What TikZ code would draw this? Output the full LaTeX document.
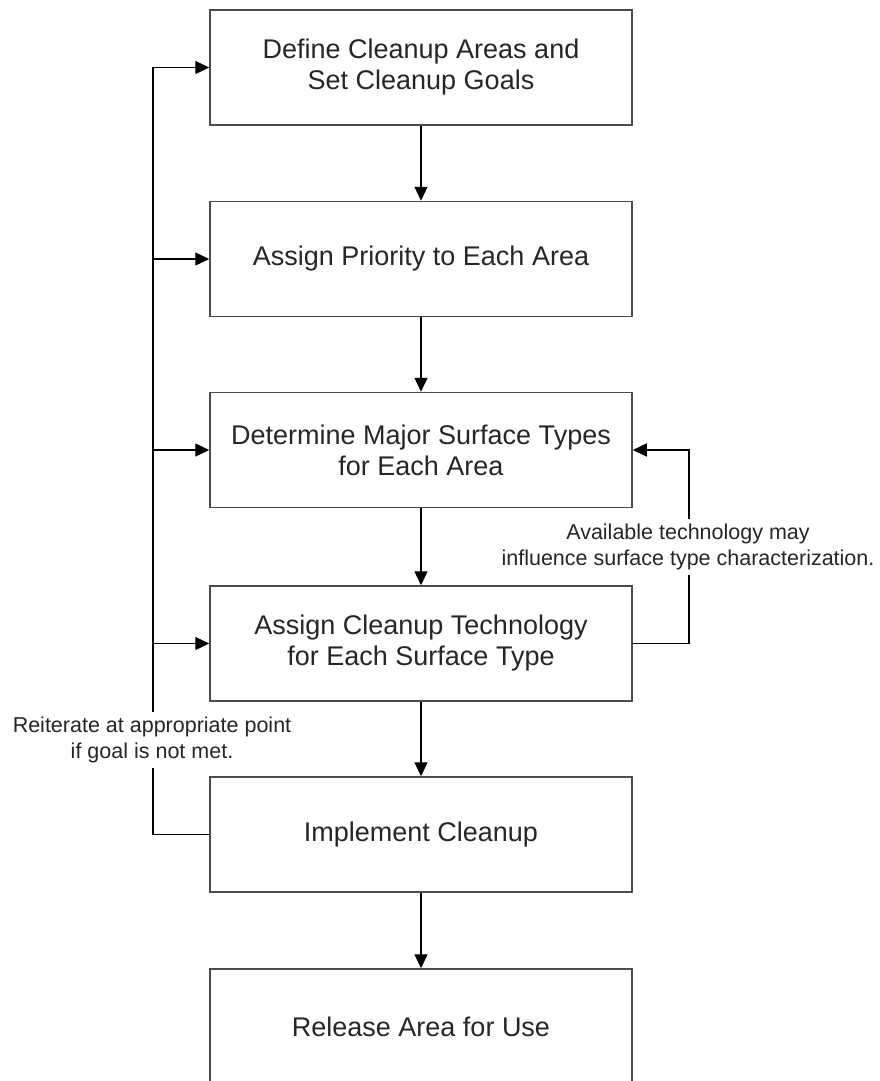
\documentclass[tikz,border=0pt]{standalone}
\usepackage{fontspec}
\setmainfont{Liberation Sans}
\usetikzlibrary{arrows.meta}
\begin{document}
\begin{tikzpicture}[x=1pt,y=-1pt,
  stepbox/.style={draw=black!70, line width=1.5pt, minimum width=422pt, minimum height=115pt,
    inner sep=0pt, align=center, font=\fontsize{27}{31}\selectfont, text=black!85},
  conn/.style={line width=1.3pt, -{Triangle[length=14pt,width=13pt]}},
  note/.style={fill=white, inner xsep=2pt, inner ysep=5pt, align=center,
    font=\fontsize{21.5}{26}\selectfont, text=black!85}]
\useasboundingbox (0,0) rectangle (879,1081);
\clip (0,0) rectangle (879,1081);
\node[stepbox] (b1) at (421,67.5) {Define Cleanup Areas and\\Set Cleanup Goals};
\node[stepbox] (b2) at (421,259) {Assign Priority to Each Area};
\node[stepbox] (b3) at (421,450) {Determine Major Surface Types\\for Each Area};
\node[stepbox] (b4) at (421,643.5) {Assign Cleanup Technology\\for Each Surface Type};
\node[stepbox] (b5) at (421,834.5) {Implement Cleanup};
\node[stepbox] (b6) at (421,1026.5) {Release Area for Use};
\draw[conn] (b1.south) -- (b2.north);
\draw[conn] (b2.south) -- (b3.north);
\draw[conn] (b3.south) -- (b4.north);
\draw[conn] (b4.south) -- (b5.north);
\draw[conn] (b5.south) -- (b6.north);
\coordinate (lb) at (153,834.5);
\draw[conn] (b5.west) -- (lb) |- (b1.west);
\draw[conn] (lb |- b2.west) -- (b2.west);
\draw[conn] (lb |- b3.west) -- (b3.west);
\draw[conn] (lb |- b4.west) -- (b4.west);
\coordinate (rb) at (689,643.5);
\draw[conn] (b4.east) -- (rb) |- (b3.east);
\node[note] (n1) at (152,740) {Reiterate at appropriate point\\if goal is not met.};
\node[note] (n2) at (688,547) {Available technology may\\influence surface type characterization.};
\end{tikzpicture}
\end{document}
